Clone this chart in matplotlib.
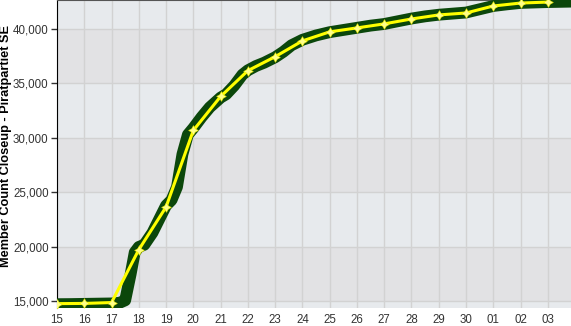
import numpy as np
import matplotlib
matplotlib.use("Agg")
import matplotlib.pyplot as plt

# daily member counts (yellow) - day index 15..33 (33 = the 3rd of next month)
days = [15, 16, 17, 18, 19, 20, 21, 22, 23, 24, 25, 26, 27, 28, 29, 30, 31, 32, 33]
daily = [14800, 14820, 14900, 19750, 23670, 30690, 33800, 36170, 37450, 38900,
         39730, 40090, 40460, 40910, 41280, 41460, 42100, 42370, 42460]

# finer samples (dark green band)
fine_t = [15.0, 15.5, 16.0, 16.5, 17.0, 17.3, 17.5, 17.7, 17.85, 18.0, 18.2, 18.5,
          18.8, 19.0, 19.2, 19.4, 19.6, 19.8, 20.0, 20.3, 20.6, 21.0, 21.2, 21.5,
          21.8, 22.0, 22.3, 22.6, 23.0, 23.3, 23.6, 24.0, 24.5, 25.0, 25.5, 26.0,
          26.5, 27.0, 27.5, 28.0, 28.5, 29.0, 29.5, 30.0, 30.5, 31.0, 31.5, 32.0,
          32.5, 33.0, 33.85]
fine_v = [14750, 14760, 14780, 14800, 14820, 14880, 15100, 17500, 19500, 20000,
          20200, 21300, 22800, 23800, 24300, 25500, 28500, 30300, 30900, 31900,
          32800, 33700, 34000, 34800, 35800, 36200, 36600, 36900, 37400, 37900,
          38500, 39000, 39400, 39700, 39900, 40100, 40300, 40450, 40700, 40950,
          41150, 41300, 41400, 41500, 41800, 42100, 42250, 42380, 42420, 42460,
          42500]

tick_labels = ["15", "16", "17", "18", "19", "20", "21", "22", "23", "24", "25",
               "26", "27", "28", "29", "30", "01", "02", "03"]
yticks = [15000, 20000, 25000, 30000, 35000, 40000]

plt.rcParams['font.family'] = ['Liberation Sans', 'DejaVu Sans']

fig = plt.figure(figsize=(5.71, 3.26), dpi=100)
ax = fig.add_axes([57 / 571, 18 / 326, 1 - 57 / 571, 1 - 18 / 326])

ymin, ymax = 14400, 42650
ax.set_xlim(15, 33.85)
ax.set_ylim(ymin, ymax)

# alternating background bands
edges = [ymin] + yticks + [ymax]
for i in range(len(edges) - 1):
    col = '#e7eaed' if i % 2 == 0 else '#e2e2e4'
    ax.axhspan(edges[i], edges[i + 1], color=col, zorder=0, lw=0)

ax.grid(True, color='#d2d2d2', lw=1, zorder=1)
ax.set_axisbelow(True)

ax.plot(fine_t, fine_v, color='#0b470b', lw=8.5, solid_capstyle='butt',
        solid_joinstyle='round', zorder=3)
ax.plot(days, daily, color='#ffff00', lw=2.2, zorder=4,
        marker=(4, 1, 0), markersize=7, markerfacecolor='#ffff88',
        markeredgecolor='#eeee00', markeredgewidth=0.4)

ax.set_xticks(days)
ax.set_xticklabels(tick_labels)
ax.set_yticks(yticks)
ax.set_yticklabels([f"{v:,}" for v in yticks])
ax.tick_params(axis='x', length=0, pad=4, labelsize=8.3, labelcolor='#333333')
ax.tick_params(axis='y', length=4, width=1, color='#333333', pad=2,
               labelsize=8.3, labelcolor='#333333')

ax.spines['left'].set_color('black')
ax.spines['top'].set_color('#555555')
ax.spines['right'].set_visible(False)
ax.spines['bottom'].set_visible(False)

ax.set_ylabel("Member Count Closeup - Piratpartiet SE", fontsize=9.2,
              fontweight='bold', color='black')
ax.yaxis.set_label_coords((12 - 57) / 514, 0.525)

fig.savefig("out.png", dpi=100)
